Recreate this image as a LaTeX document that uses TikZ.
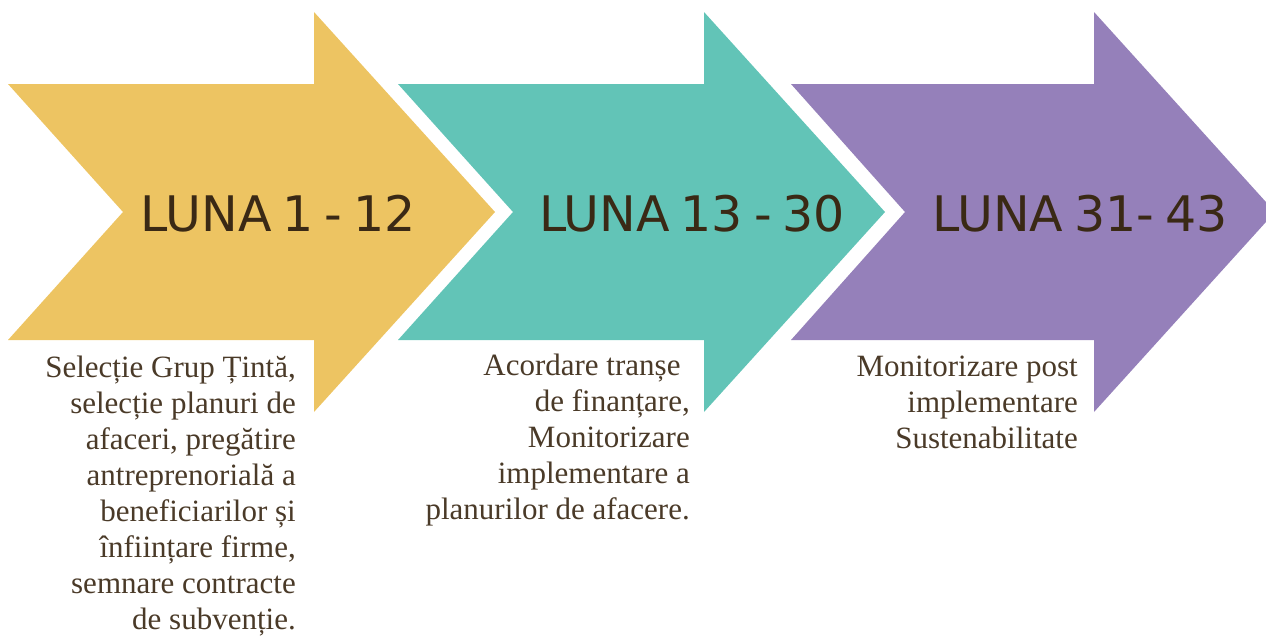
\documentclass[tikz,border=0pt]{standalone}
\usepackage{fontspec}
\setmainfont{Liberation Serif}
\newfontfamily\lunafont[WordSpace=0.7]{DejaVu Sans}
\usetikzlibrary{positioning}

\definecolor{phaseyellow}{HTML}{EDC462}
\definecolor{phaseteal}{HTML}{62C4B7}
\definecolor{phasepurple}{HTML}{9580BA}
\definecolor{lunabrown}{HTML}{3A2915}
\definecolor{taskbrown}{HTML}{4A3A28}

\begin{document}
\begin{tikzpicture}
    [
        x=1pt, y=-1pt,
        phase/.style = {
            draw=none
            },
        luna/.style = {
            font=\lunafont\fontsize{49}{58}\selectfont, text=lunabrown,
            inner sep=0pt
            },
        task/.style = {
            font=\fontsize{31}{36}\selectfont, text=taskbrown,
            align=right, inner sep=0pt, anchor=north east
            },
    ]
    \useasboundingbox (0,0) rectangle (1266,635);

    % the three chevrons
    \fill[phase, phaseyellow] (8,84) -- (314,84) -- (314,12) -- (495,212)
        -- (314,412) -- (314,340) -- (8,340) -- (123,212) -- cycle;
    \fill[phase, phaseteal] (398,84) -- (704,84) -- (704,12) -- (885,212)
        -- (704,412) -- (704,340) -- (398,340) -- (513,212) -- cycle;
    \fill[phase, phasepurple] (791,84) -- (1094,84) -- (1094,12) -- (1275,212)
        -- (1094,412) -- (1094,340) -- (791,340) -- (905,212) -- cycle;

    \node[luna] (luna1) at (278,214) {LUNA 1 - 12};
    \node[luna] (luna2) at (692,214) {LUNA 13 - 30};
    \node[luna] (luna3) at (1080,214) {LUNA 31- 43};

    \node[task] (task1) at (296,356) {Selecție Grup Țintă,\\
        selecție planuri de\\ afaceri, pregătire\\ antreprenorială a\\
        beneficiarilor și\\ înființare firme,\\ semnare contracte\\
        de subvenție.};
    \node[task] (task2) at (690,354) {Acordare tranșe\hspace*{0.3em}\\
        de finanțare,\\ Monitorizare\\ implementare a\\
        planurilor de afacere.};
    \node[task] (task3) at (1078,356) {Monitorizare post\\
        implementare\\ Sustenabilitate};
\end{tikzpicture}
\end{document}
